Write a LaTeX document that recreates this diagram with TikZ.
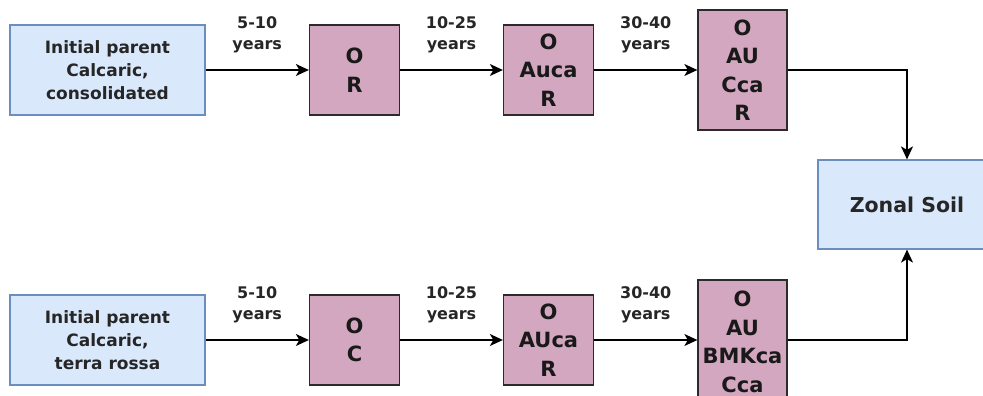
\documentclass[tikz,border=0pt]{standalone}
\usepackage{fontspec}
\setmainfont{DejaVu Sans}
\usetikzlibrary{arrows.meta}
\definecolor{bluefill}{HTML}{DAE8FC}
\definecolor{blueline}{HTML}{6C8EBF}
\definecolor{pinkfill}{HTML}{D4A7C1}
\definecolor{darkline}{HTML}{2B2B2B}
\tikzset{
  startbox/.style={draw=blueline, fill=bluefill, line width=1.2pt, rectangle, align=center,
    minimum width=195pt, minimum height=90pt, inner sep=0pt,
    font=\fontsize{17}{23}\selectfont\bfseries, text=black!85},
  soilbox/.style={draw=blueline, fill=bluefill, line width=1.2pt, rectangle, align=center,
    minimum width=178pt, minimum height=89pt, inner sep=0pt,
    font=\fontsize{20.5}{26}\selectfont\bfseries, text=black!85},
  horizon/.style={draw=darkline, fill=pinkfill, line width=1.3pt, rectangle, align=center,
    minimum width=90pt, minimum height=90pt, inner sep=0pt,
    font=\fontsize{21}{28.5}\selectfont\bfseries, text=black!90},
  arr/.style={draw=black, line width=1.3pt, -{Stealth[length=13pt,width=12pt,inset=3.5pt]}},
  lbl/.style={align=center, inner sep=0pt, font=\fontsize{16}{21}\selectfont\bfseries, text=black!85}
}
\begin{document}
\begin{tikzpicture}[x=1pt,y=-1pt]
\useasboundingbox (0,0) rectangle (983,396);
\clip (0,0) rectangle (983,396);
\fill[white] (0,0) rectangle (983,396);
% top row
\node[startbox] (a0) at (107.5,70) {Initial parent\\Calcaric,\\consolidated};
\node[horizon] (a1) at (354.5,70) {O\\R};
\node[horizon] (a2) at (548.5,70) {O\\Auca\\R};
\node[horizon, minimum width=89pt, minimum height=120pt] (a3) at (742.5,70) {O\\AU\\Cca\\R};
% soil
\node[soilbox] (zs) at (907,204.5) {Zonal Soil};
% bottom row
\node[startbox] (b0) at (107.5,340) {Initial parent\\Calcaric,\\terra rossa};
\node[horizon] (b1) at (354.5,340) {O\\C};
\node[horizon] (b2) at (548.5,340) {O\\AUca\\R};
\node[horizon, minimum width=89pt, minimum height=124pt] (b3) at (742.5,342) {O\\AU\\BMKca\\Cca};
% connectors top
\draw[arr] (a0) -- node[lbl, yshift=35pt] {5-10\\years} (a1);
\draw[arr] (a1) -- node[lbl, yshift=35pt] {10-25\\years} (a2);
\draw[arr] (a2) -- node[lbl, yshift=35pt] {30-40\\years} (a3);
\draw[arr] (a3.east |- a2) -| (zs.north);
% connectors bottom
\draw[arr] (b0) -- node[lbl, yshift=35pt] {5-10\\years} (b1);
\draw[arr] (b1) -- node[lbl, yshift=35pt] {10-25\\years} (b2);
\draw[arr] (b2) -- node[lbl, yshift=35pt] {30-40\\years} (b2 -| b3.west);
\draw[arr] (b3.east |- b2) -| (zs.south);
\end{tikzpicture}
\end{document}
